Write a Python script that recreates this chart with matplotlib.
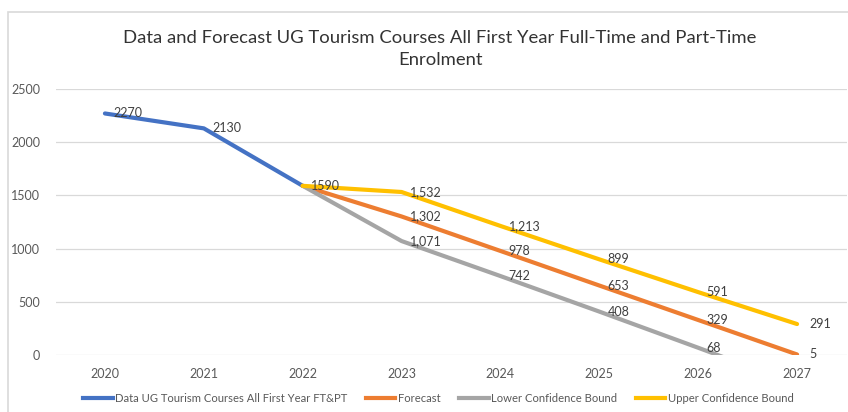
import numpy as np
import matplotlib.pyplot as plt
from matplotlib.patches import Rectangle
from matplotlib.lines import Line2D

plt.rcParams['font.family'] = ['Lato', 'DejaVu Sans']

years = ['2020', '2021', '2022', '2023', '2024', '2025', '2026', '2027']
actual = [2270, 2130, 1590, np.nan, np.nan, np.nan, np.nan, np.nan]
forecast = [np.nan, np.nan, 1590, 1302, 978, 653, 329, 5]
lower = [np.nan, np.nan, 1590, 1071, 742, 408, 68, -277]
upper = [np.nan, np.nan, 1590, 1532, 1213, 899, 591, 291]

names = ['Data UG Tourism Courses All First Year FT&PT', 'Forecast',
         'Lower Confidence Bound', 'Upper Confidence Bound']
colors = ['#4472C4', '#ED7D31', '#A5A5A5', '#FFC000']

fig = plt.figure(figsize=(8.48, 4.12), dpi=100)

# chart area border
fig.patches.append(Rectangle((8 / 848, -0.01), 1.0, (412 - 12) / 412 + 0.01,
                             transform=fig.transFigure, fill=False,
                             edgecolor='#D9D9D9', linewidth=1.2))

ax = fig.add_axes([55.5 / 848, 57 / 412, 791 / 848, 266 / 412])
x = np.arange(len(years))

series = [actual, forecast, lower, upper]
for vals, col, nm in zip(series, colors, names):
    ax.plot(x, vals, color=col, lw=3, solid_capstyle='round',
            solid_joinstyle='round', label=nm)

# data labels
for i, v in enumerate(actual):
    if not np.isnan(v):
        ax.annotate(f'{int(v)}', (x[i], v), xytext=(6, 0),
                    textcoords='offset points', ha='left', va='center',
                    fontsize=9, color='#404040')
for vals in (forecast, lower, upper):
    for i in range(3, len(vals)):
        v = vals[i]
        if v < 0:
            continue
        dx = 9 if i == 7 else 6
        ax.annotate(f'{int(v):,}', (x[i], v), xytext=(dx, 0),
                    textcoords='offset points', ha='left', va='center',
                    fontsize=9, color='#404040')

ax.set_xlim(-0.5, 7.5)
ax.set_ylim(0, 2500)
ax.set_yticks(range(0, 2501, 500))
ax.set_xticks(x)
ax.set_xticklabels(years)
ax.grid(axis='y', color='#D9D9D9', lw=0.9)
ax.set_axisbelow(True)
for s in ax.spines.values():
    s.set_visible(False)
ax.tick_params(length=0, labelsize=9, labelcolor='#595959')
ax.tick_params(axis='y', pad=11)
ax.tick_params(axis='x', pad=9)

fig.text(0.519, 1 - 38 / 412,
         'Data and Forecast UG Tourism Courses All First Year Full-Time and Part-Time',
         ha='center', va='center', fontsize=13.3, color='#333333')
fig.text(0.519, 1 - 60 / 412, 'Enrolment', ha='center', va='center',
         fontsize=13.3, color='#333333')

handles = [Line2D([0], [0], color=c, lw=3) for c in colors]
fig.legend(handles, names, loc='center', bbox_to_anchor=(0.517, 1 - 398 / 412),
           ncol=4, frameon=False, fontsize=8.1, handlelength=2.6,
           handletextpad=0.2, columnspacing=1.7, labelcolor='#595959')

fig.savefig('out.png', dpi=100)
